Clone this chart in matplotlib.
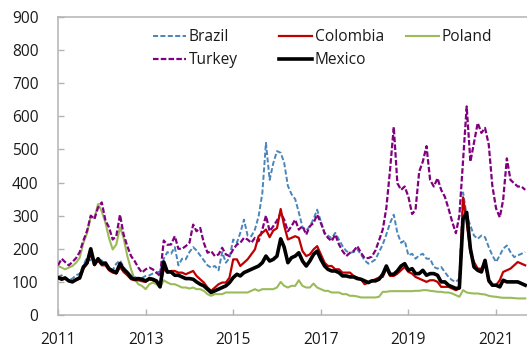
import matplotlib
matplotlib.use("Agg")
import matplotlib.pyplot as plt
from matplotlib.lines import Line2D
import pandas as pd

plt.rcParams['font.family'] = ['Open Sans', 'DejaVu Sans']

# Month-start observation dates, Jan 2011 - Sep 2021
dates = pd.date_range('2011-01-01', periods=129, freq='MS')

# 5-year sovereign CDS spreads (basis points)
brazil = [
    115, 120, 110, 105, 110, 120, 125, 150, 175, 165, 165, 160,
    165, 150, 140, 135, 155, 165, 145, 130, 120, 115, 110, 112,
    118, 120, 125, 128, 132, 170, 190, 185, 205, 150, 170, 168,
    190, 205, 195, 180, 165, 150, 143, 148, 135, 190, 158, 172,
    228, 218, 248, 288, 240, 238, 258, 298, 368, 520, 408, 458,
    495, 490, 460, 390, 365, 350, 310, 265, 255, 268, 290, 318,
    283, 245, 240, 232, 248, 228, 208, 193, 188, 190, 198, 183,
    165, 155, 160, 168, 190, 213, 243, 278, 303, 248, 218, 225,
    180, 185, 170, 180, 185, 170, 170, 145, 140, 145, 130, 115,
    105, 100, 110, 370, 300, 270, 240, 230, 240, 235, 205, 180,
    160, 180, 200, 210, 190, 175, 180, 185, 190,
]
turkey = [
    150, 170, 160, 150, 160, 172, 190, 225, 255, 300, 290, 325,
    340, 285, 265, 228, 238, 303, 243, 208, 178, 163, 143, 128,
    138, 143, 138, 128, 118, 225, 212, 213, 238, 200, 200, 208,
    218, 273, 253, 263, 218, 188, 193, 178, 183, 203, 183, 178,
    198, 213, 218, 233, 228, 218, 233, 223, 258, 300, 253, 268,
    285, 308, 288, 253, 268, 288, 258, 268, 243, 268, 278, 303,
    278, 248, 233, 223, 243, 213, 193, 178, 188, 193, 208, 188,
    172, 172, 176, 195, 225, 258, 323, 438, 568, 398, 378, 388,
    357, 305, 317, 433, 463, 510, 408, 388, 413, 378, 357, 322,
    282, 247, 300, 470, 630, 463, 520, 580, 550, 565, 515, 390,
    322, 295, 347, 473, 408, 398, 388, 388, 378,
]
colombia = [
    115, 112, 110, 105, 100, 105, 110, 140, 155, 185, 150, 165,
    150, 150, 135, 128, 125, 145, 130, 120, 108, 105, 105, 102,
    100, 108, 105, 100, 88, 140, 128, 133, 133, 128, 128, 123,
    128, 133, 118, 108, 98, 83, 73, 83, 93, 98, 98, 113,
    168, 168, 148, 158, 168, 183, 198, 238, 248, 258, 235, 255,
    262, 320, 270, 228, 233, 238, 233, 193, 178, 183, 198, 208,
    183, 158, 148, 148, 138, 138, 128, 128, 128, 118, 113, 108,
    93, 98, 103, 108, 113, 115, 140, 118, 118, 125, 135, 145,
    130, 125, 115, 110, 105, 100, 105, 105, 100, 85, 85, 85,
    80, 75, 80, 355, 280, 190, 160, 140, 140, 160, 100, 90,
    90, 105, 130, 135, 140, 150, 160, 155, 150,
]
mexico = [
    113, 108, 112, 103, 100, 107, 112, 145, 158, 200, 153, 170,
    155, 157, 140, 133, 128, 155, 138, 128, 113, 108, 110, 108,
    103, 110, 108, 103, 85, 160, 130, 130, 120, 120, 115, 110,
    110, 108, 100, 93, 88, 78, 68, 73, 78, 83, 88, 98,
    113, 123, 118, 128, 133, 138, 143, 148, 158, 178, 163, 168,
    178, 230, 205, 158, 173, 178, 188, 163, 148, 163, 183, 193,
    168, 148, 138, 133, 133, 128, 118, 118, 115, 115, 110, 108,
    103, 98, 103, 103, 108, 123, 148, 123, 123, 133, 148, 155,
    135, 140, 125, 125, 135, 120, 125, 125, 120, 100, 100, 90,
    85, 80, 82, 290, 310, 200, 145, 135, 130, 165, 105, 90,
    90, 85, 105, 100, 100, 100, 100, 95, 90,
]
poland = [
    148, 143, 138, 143, 148, 158, 173, 218, 248, 298, 293, 335,
    313, 278, 233, 198, 213, 265, 233, 178, 138, 108, 93, 88,
    78, 93, 98, 93, 83, 105, 98, 93, 93, 88, 83, 83,
    80, 83, 78, 78, 73, 63, 58, 63, 63, 63, 68, 68,
    68, 68, 68, 68, 68, 73, 78, 73, 78, 78, 78, 78,
    83, 100, 88, 83, 88, 88, 105, 88, 83, 83, 95, 83,
    78, 73, 73, 68, 68, 68, 63, 63, 58, 58, 56, 53,
    53, 53, 53, 53, 55, 70, 70, 72, 72, 72, 72, 72,
    72, 72, 73, 73, 75, 75, 73, 72, 70, 70, 68, 68,
    65, 60, 55, 75, 68, 66, 65, 65, 63, 62, 58, 56,
    55, 53, 52, 52, 52, 51, 50, 50, 50,
]

year_ticks = ['2011', '2013', '2015', '2017', '2019', '2021']

W, H = 527, 351
fig = plt.figure(figsize=(W / 100, H / 100), dpi=100)
ax = fig.add_axes([58 / W, 36 / H, 1 - 58 / W, (315 - 17) / H])

c_brazil = '#4a85ba'
c_turkey = '#800080'
c_colombia = '#c00000'
c_mexico = '#000000'
c_poland = '#9bbb59'

ls_brazil = (0, (2.6, 1.2))
ls_turkey = (0, (2.5, 1.0))

ax.plot(dates, poland, color=c_poland, lw=1.5, zorder=2)
ax.plot(dates, brazil, color=c_brazil, lw=1.4, ls=ls_brazil, zorder=3)
ax.plot(dates, turkey, color=c_turkey, lw=1.6, ls=ls_turkey, zorder=4)
ax.plot(dates, colombia, color=c_colombia, lw=1.6, zorder=5)
ax.plot(dates, mexico, color=c_mexico, lw=2.6, zorder=6)

ax.set_xlim(pd.Timestamp('2011-01-01'), pd.Timestamp('2021-09-16'))
ax.set_ylim(0, 900)
ax.set_yticks(range(0, 901, 100))
ax.set_xticks([pd.Timestamp(f'{y}-01-01') for y in year_ticks])
ax.set_xticklabels(year_ticks)

spine_c = '#b3b3b3'
for s in ['left', 'bottom', 'top']:
    ax.spines[s].set_color(spine_c)
    ax.spines[s].set_linewidth(1.1)
ax.spines['right'].set_visible(False)

ax.tick_params(axis='both', direction='in', color=spine_c, length=4,
               width=1.0, labelsize=11.2, labelcolor='#1a1a1a')
ax.tick_params(axis='y', pad=14)
ax.tick_params(axis='x', pad=12)

# Legend laid out in three columns
def add_col(x_px, handles, labels):
    leg = fig.legend(handles, labels, loc='upper left',
                     bbox_to_anchor=(x_px / W, 1 - 29 / H),
                     bbox_transform=fig.transFigure, frameon=False,
                     fontsize=11.2, handlelength=2.1, handletextpad=0.2,
                     borderpad=0, borderaxespad=0, labelspacing=0.45)
    for t in leg.get_texts():
        t.set_color('#1a1a1a')
    return leg

h_brazil = Line2D([], [], color=c_brazil, lw=1.4, ls=ls_brazil)
h_turkey = Line2D([], [], color=c_turkey, lw=1.6, ls=ls_turkey)
h_colombia = Line2D([], [], color=c_colombia, lw=1.6)
h_mexico = Line2D([], [], color=c_mexico, lw=2.6)
h_poland = Line2D([], [], color=c_poland, lw=1.5)

add_col(153, [h_brazil, h_turkey], ['Brazil', 'Turkey'])
add_col(279, [h_colombia, h_mexico], ['Colombia', 'Mexico'])
add_col(406, [h_poland], ['Poland'])

fig.savefig('out.png', dpi=100)
